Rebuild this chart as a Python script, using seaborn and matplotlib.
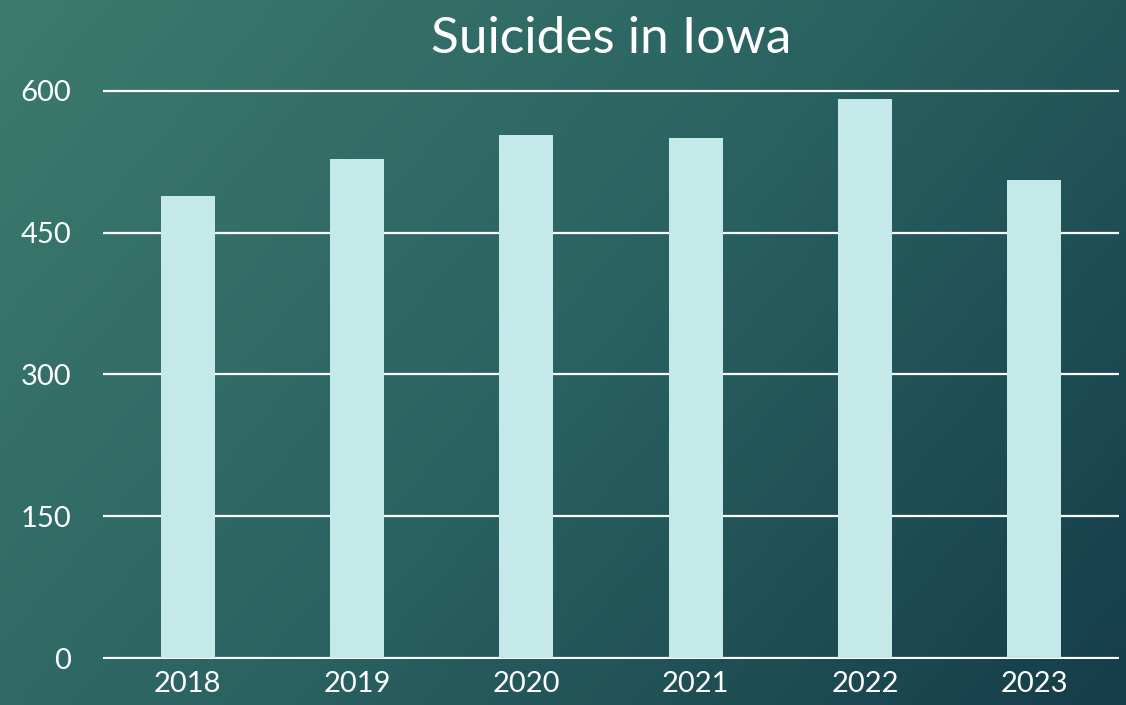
import numpy as np
import matplotlib
matplotlib.use("Agg")
import matplotlib.pyplot as plt
from matplotlib.colors import LinearSegmentedColormap
import seaborn as sns

# chart data
years = ["2018", "2019", "2020", "2021", "2022", "2023"]
suicides = [489, 528, 553, 550, 591, 506]
y_ticks = [0, 150, 300, 450, 600]

bar_color = "#c5e8e9"
sns.set_style("white")
plt.rcParams["font.family"] = ["Lato", "DejaVu Sans"]

fig = plt.figure(figsize=(11.26, 7.05), dpi=100)

# diagonal gradient background (top-left green teal -> bottom-right dark teal)
bg = fig.add_axes([0, 0, 1, 1], zorder=0)
gx, gy = np.meshgrid(np.linspace(0, 1, 400), np.linspace(0, 1, 250))
grad = 0.65 * gx + 0.35 * gy
cmap = LinearSegmentedColormap.from_list("bg", ["#3c7b6d", "#2a6261", "#153d4a"])
bg.imshow(grad, cmap=cmap, aspect="auto", extent=[0, 1, 1, 0])
bg.axis("off")

ax = fig.add_axes([103 / 1126, 46 / 705, 1016 / 1126, 570 / 705], zorder=1)
ax.patch.set_alpha(0)

sns.barplot(x=years, y=suicides, color=bar_color, saturation=1, width=0.32,
            linewidth=0, ax=ax, zorder=2)

ax.set_ylim(-1, 602)
ax.set_yticks(y_ticks)
ax.set_xlim(-0.5, len(years) - 0.5)
ax.grid(axis="y", color="white", linewidth=1.6, zorder=1)
ax.set_axisbelow(True)
for s in ax.spines.values():
    s.set_visible(False)
ax.tick_params(axis="both", length=0, colors="white", labelsize=21)
ax.tick_params(axis="y", pad=23)
ax.tick_params(axis="x", pad=9)
ax.set_xlabel("")
ax.set_ylabel("")
ax.set_title("Suicides in Iowa", color="white", fontsize=37, pad=26)

fig.savefig("out.png", dpi=100)
